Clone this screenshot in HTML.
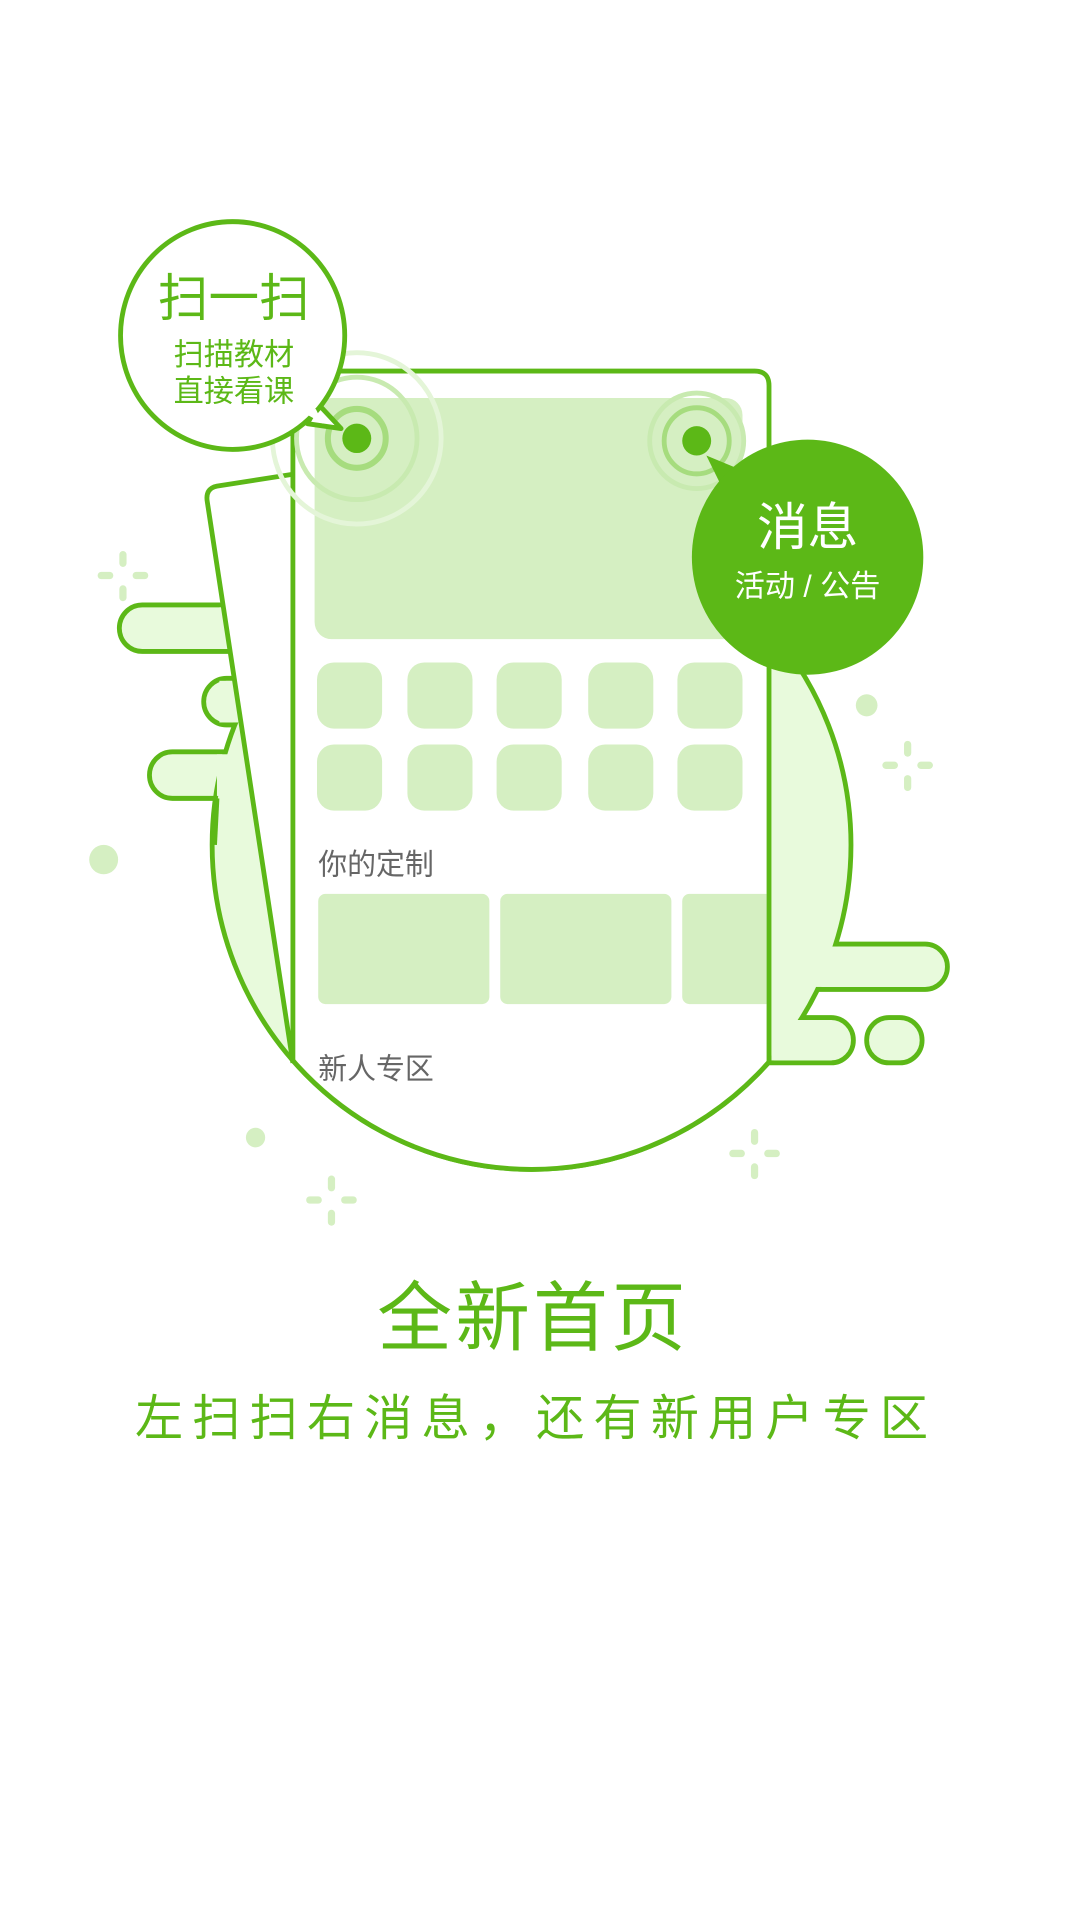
<!DOCTYPE html>
<html><head><meta charset="utf-8"><style>
html,body{margin:0;padding:0;background:#fff;width:1080px;height:1920px;overflow:hidden}
svg{display:block}
text{font-family:"Liberation Sans","Noto Sans CJK SC",sans-serif}
</style></head><body>
<svg width="1080" height="1920" viewBox="0 0 896 1568" preserveAspectRatio="none" xmlns="http://www.w3.org/2000/svg">
<defs>
<clipPath id="circ"><circle cx="441" cy="690" r="265"/></clipPath>
<clipPath id="phoneclip"><rect x="245" y="305" width="391" height="700"/></clipPath>
<clipPath id="lowclip"><rect x="240" y="860" width="400" height="120"/></clipPath>
</defs>
<g fill="#d5efc2">
 <g transform="translate(102,470)"><rect x="-3" y="-20" width="6" height="13" rx="3"/><rect x="-3" y="8" width="6" height="13" rx="3"/><rect x="-21" y="-3" width="13" height="6" rx="3"/><rect x="8" y="-3" width="13" height="6" rx="3"/></g>
 <g transform="translate(753,625)"><rect x="-3" y="-20" width="6" height="13" rx="3"/><rect x="-3" y="8" width="6" height="13" rx="3"/><rect x="-21" y="-3" width="13" height="6" rx="3"/><rect x="8" y="-3" width="13" height="6" rx="3"/></g>
 <g transform="translate(275,980)"><rect x="-3" y="-20" width="6" height="13" rx="3"/><rect x="-3" y="8" width="6" height="13" rx="3"/><rect x="-21" y="-3" width="13" height="6" rx="3"/><rect x="8" y="-3" width="13" height="6" rx="3"/></g>
 <g transform="translate(626,942)"><rect x="-3" y="-20" width="6" height="13" rx="3"/><rect x="-3" y="8" width="6" height="13" rx="3"/><rect x="-21" y="-3" width="13" height="6" rx="3"/><rect x="8" y="-3" width="13" height="6" rx="3"/></g>
 <circle cx="86" cy="702" r="12"/><circle cx="719" cy="576" r="9"/><circle cx="212" cy="929" r="8"/>
</g>
<g fill="#e8fadc" stroke="#5cb817" stroke-width="4">
 <rect x="99" y="494" width="130" height="38" rx="19"/>
 <rect x="169" y="554" width="60" height="38" rx="19"/>
 <rect x="124" y="614" width="110" height="38" rx="19"/>
 <rect x="640" y="771" width="146" height="37" rx="18.5"/>
 <rect x="620" y="831" width="88" height="37" rx="18.5"/>
 <rect x="719" y="831" width="46" height="37" rx="18.5"/>
</g>
<circle cx="441" cy="690" r="265" fill="#e8fadc" stroke="#5cb817" stroke-width="4"/>
<g fill="#e8fadc">
 <rect x="182" y="496" width="60" height="34"/><rect x="182" y="556" width="60" height="34"/><rect x="180" y="616" width="60" height="34"/>
 <rect x="620" y="773" width="130" height="33"/><rect x="620" y="833" width="70" height="33"/>
</g>
<path d="M180,652 L178,690" stroke="#5cb817" stroke-width="4" fill="none"/>
<path d="M245,387 L180,397 Q170,399 172,410 L243,868" fill="#fff" stroke="#5cb817" stroke-width="4"/>
<g clip-path="url(#circ)"><rect x="243" y="303" width="395" height="720" fill="#fff"/></g>
<rect x="243" y="303" width="395" height="300" rx="12" fill="#fff"/>
<circle clip-path="url(#lowclip)" cx="441" cy="690" r="265" fill="none" stroke="#5cb817" stroke-width="4"/>
<g clip-path="url(#phoneclip)">
 <rect x="261" y="325" width="355" height="197" rx="14" fill="#d5efc2"/>
 <g fill="#d5efc2">
  <rect x="263" y="541" width="54" height="54" rx="14"/>
  <rect x="338" y="541" width="54" height="54" rx="14"/>
  <rect x="412" y="541" width="54" height="54" rx="14"/>
  <rect x="488" y="541" width="54" height="54" rx="14"/>
  <rect x="562" y="541" width="54" height="54" rx="14"/>
  <rect x="263" y="608" width="54" height="54" rx="14"/>
  <rect x="338" y="608" width="54" height="54" rx="14"/>
  <rect x="412" y="608" width="54" height="54" rx="14"/>
  <rect x="488" y="608" width="54" height="54" rx="14"/>
  <rect x="562" y="608" width="54" height="54" rx="14"/>
  <rect x="264" y="730" width="142" height="90" rx="6"/>
  <rect x="415" y="730" width="142" height="90" rx="6"/>
  <rect x="566" y="730" width="142" height="90" rx="6"/>
 </g>
 <text x="264" y="714" font-size="24" fill="#666">你的定制</text>
 <text x="264" y="881" font-size="24" fill="#666">新人专区</text>
</g>
<path d="M243,868 L243,315 Q243,303 255,303 L626,303 Q638,303 638,315 L638,868" fill="none" stroke="#5cb817" stroke-width="4"/>
<g fill="none">
 <circle cx="296" cy="358" r="70" stroke="#e4f5d8" stroke-width="4"/>
 <circle cx="296" cy="358" r="50" stroke="#c8eab0" stroke-width="4"/>
 <circle cx="296" cy="358" r="24" stroke="#a6dc7e" stroke-width="5"/>
 <circle cx="296" cy="358" r="12" fill="#5cb817"/>
</g>
<g fill="none">
 <circle cx="578" cy="360" r="39" stroke="#c8eab0" stroke-width="4"/>
 <circle cx="578" cy="360" r="27" stroke="#a6dc7e" stroke-width="4"/>
 <circle cx="578" cy="360" r="12" fill="#5cb817"/>
</g>
<g>
 <path d="M255,346 L283,350 L264,330 Z" fill="#fff" stroke="#5cb817" stroke-width="4" stroke-linejoin="round"/>
 <circle cx="193" cy="274" r="93" fill="#fff" stroke="#5cb817" stroke-width="4"/>
 <path d="M250,336 L262,334 L268,346 Z" fill="#fff"/>
 <text x="194" y="258" font-size="42" fill="#5cb817" text-anchor="middle">扫一扫</text>
 <text x="194" y="298" font-size="25" fill="#5cb817" text-anchor="middle">扫描教材</text>
 <text x="194" y="328" font-size="25" fill="#5cb817" text-anchor="middle">直接看课</text>
</g>
<g>
 <path d="M586,372 L630,390 L605,410 Z" fill="#5cb817"/>
 <circle cx="670" cy="455" r="96" fill="#5cb817"/>
 <text x="670" y="445" font-size="42" fill="#fff" text-anchor="middle">消息</text>
 <text x="670" y="487" font-size="25" fill="#fff" text-anchor="middle">活动 / 公告</text>
</g>
<text x="441" y="1098" font-size="62" fill="#5cb817" text-anchor="middle" textLength="256" lengthAdjust="spacing">全新首页</text>
<text x="441" y="1172" font-size="40" fill="#5cb817" text-anchor="middle" textLength="658" lengthAdjust="spacing">左扫扫右消息，还有新用户专区</text>
</svg>
</body></html>
